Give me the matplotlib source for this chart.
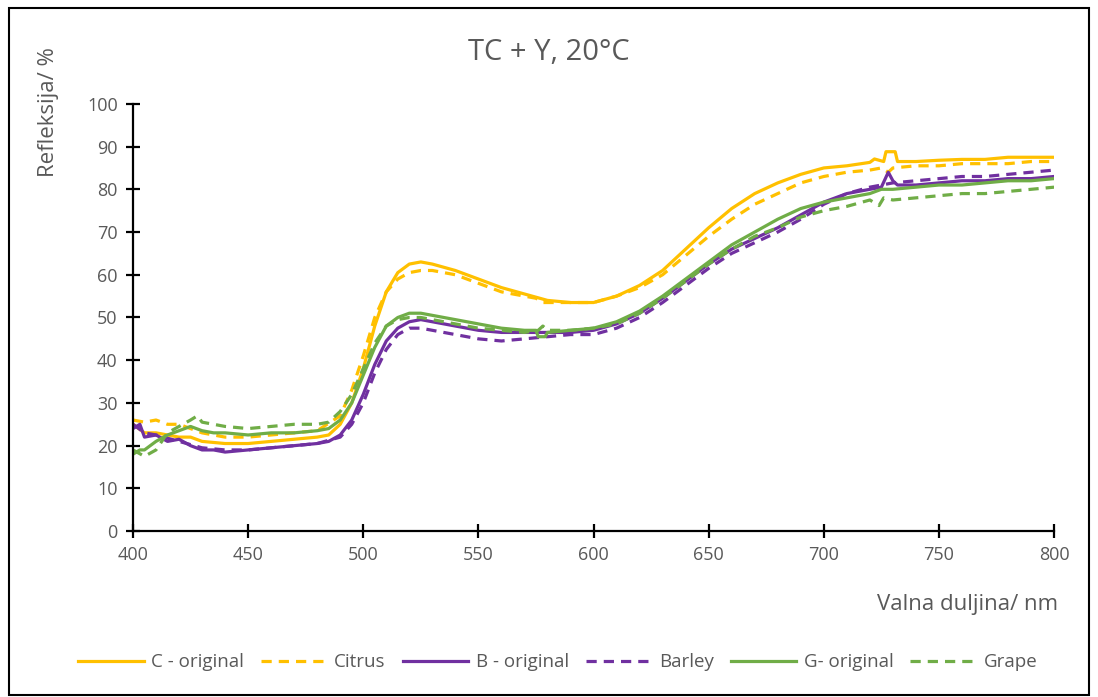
import matplotlib
matplotlib.use("Agg")
import matplotlib.pyplot as plt
from matplotlib.patches import Rectangle

plt.rcParams['font.family'] = ['Open Sans', 'DejaVu Sans']

# ---- data ----
wl_c = [400, 405, 410, 415, 420, 425, 430, 440, 450, 460, 470, 480, 485, 490, 495, 500, 505, 510, 515, 520, 525, 530, 540, 550, 560, 570, 580, 590, 600, 610, 620, 630, 640, 650, 660, 670, 680, 690, 700, 710, 720, 722, 726, 727, 731, 732, 740, 750, 760, 770, 780, 790, 800]
c_orig = [25, 23, 23, 22.5, 22, 22, 21, 20.5, 20.5, 21, 21.5, 22, 22.5, 25, 30, 38, 48, 56, 60.5, 62.5, 63, 62.5, 61, 59, 57, 55.5, 54, 53.5, 53.5, 55, 57.5, 61, 66, 71, 75.5, 79, 81.5, 83.5, 85, 85.5, 86.3, 87.1, 86.5, 88.8, 88.8, 86.5, 86.5, 86.8, 87, 87, 87.5, 87.5, 87.5]

wl_ci = [400, 405, 410, 415, 420, 425, 430, 440, 450, 460, 470, 480, 490, 495, 500, 505, 510, 515, 520, 525, 530, 540, 550, 560, 570, 575, 578, 580, 590, 600, 610, 620, 630, 640, 650, 660, 670, 680, 690, 700, 710, 720, 725, 728, 730, 740, 750, 760, 770, 780, 790, 800]
citrus = [26, 25.5, 26, 25, 25, 24, 23, 22, 22, 22.5, 23, 23.5, 27, 33, 41, 50, 56, 59, 60.5, 61, 61, 60, 58, 56, 55, 54.5, 53.5, 53.5, 53.5, 53.5, 55, 57, 60, 64.5, 69, 73, 76.5, 79, 81.5, 83, 84, 84.5, 85, 84, 85, 85.5, 85.5, 86, 86, 86, 86.5, 86.5]

wl_b = [400, 403, 405, 410, 415, 420, 425, 430, 435, 440, 450, 460, 470, 480, 485, 490, 495, 500, 505, 510, 515, 520, 525, 530, 540, 550, 560, 570, 580, 590, 600, 610, 620, 630, 640, 650, 660, 670, 680, 690, 700, 710, 720, 725, 728, 730, 732, 740, 750, 760, 770, 780, 790, 800]
b_orig = [24, 25, 22, 22.5, 21, 21.5, 20, 19, 19, 18.5, 19, 19.5, 20, 20.5, 21, 22.5, 26, 32, 39, 44.5, 47.5, 49, 49.5, 49, 48, 47, 46.5, 46.5, 46.5, 46.5, 47, 48.5, 51, 54.5, 58.5, 62.5, 66, 68.5, 71, 74, 77, 79, 80, 80.5, 84, 82, 81, 81, 81.5, 82, 82, 82.5, 82.5, 83]

wl_ba = [400, 405, 410, 420, 430, 440, 450, 460, 470, 480, 490, 495, 500, 505, 510, 515, 520, 525, 530, 540, 550, 560, 570, 580, 590, 600, 610, 620, 630, 640, 650, 660, 670, 680, 690, 700, 710, 720, 730, 740, 750, 760, 770, 780, 790, 800]
barley = [25, 23, 22.5, 21, 19.5, 19, 19, 19.5, 20, 20.5, 22, 25, 30, 37, 42.5, 46, 47.5, 47.5, 47, 46, 45, 44.5, 45, 45.5, 46, 46, 47.5, 50, 53.5, 57.5, 61.5, 65, 67.5, 70, 73, 76.5, 79, 80.5, 81.5, 82, 82.5, 83, 83, 83.5, 84, 84.5]

wl_g = [400, 403, 405, 410, 415, 420, 425, 430, 435, 440, 450, 460, 470, 480, 485, 490, 495, 500, 505, 510, 515, 520, 525, 530, 540, 550, 560, 570, 575, 576, 579, 580, 590, 600, 610, 620, 630, 640, 650, 660, 670, 680, 690, 700, 710, 720, 725, 730, 740, 750, 760, 770, 780, 790, 800]
g_orig = [18, 19, 19, 21, 22.5, 23.5, 24.5, 23.5, 23, 23, 22.5, 23, 23, 23.5, 24, 26, 30, 36.5, 43, 48, 50, 51, 51, 50.5, 49.5, 48.5, 47.5, 47, 47, 45.5, 45.5, 46.5, 47, 47.5, 49, 51.5, 55, 59, 63, 67, 70, 73, 75.5, 77, 78, 79, 80, 80, 80.5, 81, 81, 81.5, 82, 82, 82.5]

wl_gr = [400, 405, 410, 415, 420, 425, 428, 430, 440, 450, 460, 470, 480, 485, 490, 495, 500, 505, 510, 515, 520, 525, 530, 540, 550, 560, 570, 576, 578, 580, 590, 600, 610, 620, 630, 640, 650, 660, 670, 680, 690, 700, 710, 720, 724, 726, 730, 740, 750, 760, 770, 780, 790, 800]
grape = [19, 17.5, 19, 23, 24.5, 26, 27, 25.5, 24.5, 24, 24.5, 25, 25, 25.5, 28, 32, 38, 44, 48, 49.5, 50, 50, 49.5, 48.5, 47.5, 47, 46.5, 47, 48, 47, 47, 47.5, 48.5, 51, 54.5, 58.5, 62.5, 66, 69, 71, 73.5, 75, 76, 77.5, 76.2, 78, 77.5, 78, 78.5, 79, 79, 79.5, 80, 80.5]

labels = ["C - original", "Citrus", "B - original", "Barley", "G- original", "Grape"]
x_ticks = [400, 450, 500, 550, 600, 650, 700, 750, 800]
y_ticks = [0, 10, 20, 30, 40, 50, 60, 70, 80, 90, 100]

YEL, PUR, GRN = "#FFC000", "#7030A0", "#70AD47"
TXT = "#595959"

fig = plt.figure(figsize=(10.98, 6.97), dpi=100)
ax = fig.add_axes([0.1211, 0.238, 0.8389, 0.613])

lw = 2.3
dash = (0, (3.2, 2.2))
ax.plot(wl_c, c_orig, color=YEL, lw=lw, label=labels[0])
ax.plot(wl_ci, citrus, color=YEL, lw=lw, ls=dash, label=labels[1])
ax.plot(wl_b, b_orig, color=PUR, lw=lw, label=labels[2])
ax.plot(wl_ba, barley, color=PUR, lw=lw, ls=dash, label=labels[3])
ax.plot(wl_g, g_orig, color=GRN, lw=lw, label=labels[4])
ax.plot(wl_gr, grape, color=GRN, lw=lw, ls=dash, label=labels[5])

ax.set_xlim(400, 800)
ax.set_ylim(0, 100)
ax.set_xticks(x_ticks)
ax.set_yticks(y_ticks)
for s in ["top", "right"]:
    ax.spines[s].set_visible(False)
for s in ["left", "bottom"]:
    ax.spines[s].set_linewidth(1.6)
    ax.spines[s].set_color("black")
ax.tick_params(axis="both", direction="inout", length=10, width=1.6,
               labelsize=13, labelcolor=TXT, pad=6)

fig.text(0.5, 0.924, "TC + Y, 20°C", ha="center", va="center", fontsize=21, color=TXT)
fig.text(0.044, 0.932, "Refleksija/ %", rotation=90, ha="center", va="top", fontsize=16, color=TXT)
fig.text(0.964, 0.132, "Valna duljina/ nm", ha="right", va="center", fontsize=16, color=TXT)

leg = fig.legend(loc="center", bbox_to_anchor=(0.508, 0.05), ncol=6, frameon=False,
                 fontsize=13.5, handlelength=3.5, columnspacing=0.9, handletextpad=0.4)
for t in leg.get_texts():
    t.set_color(TXT)

fig.add_artist(Rectangle((0.008, 0.003), 0.984, 0.985, transform=fig.transFigure,
                         fill=False, edgecolor="black", lw=1.5))

fig.savefig("out.png", dpi=100)
